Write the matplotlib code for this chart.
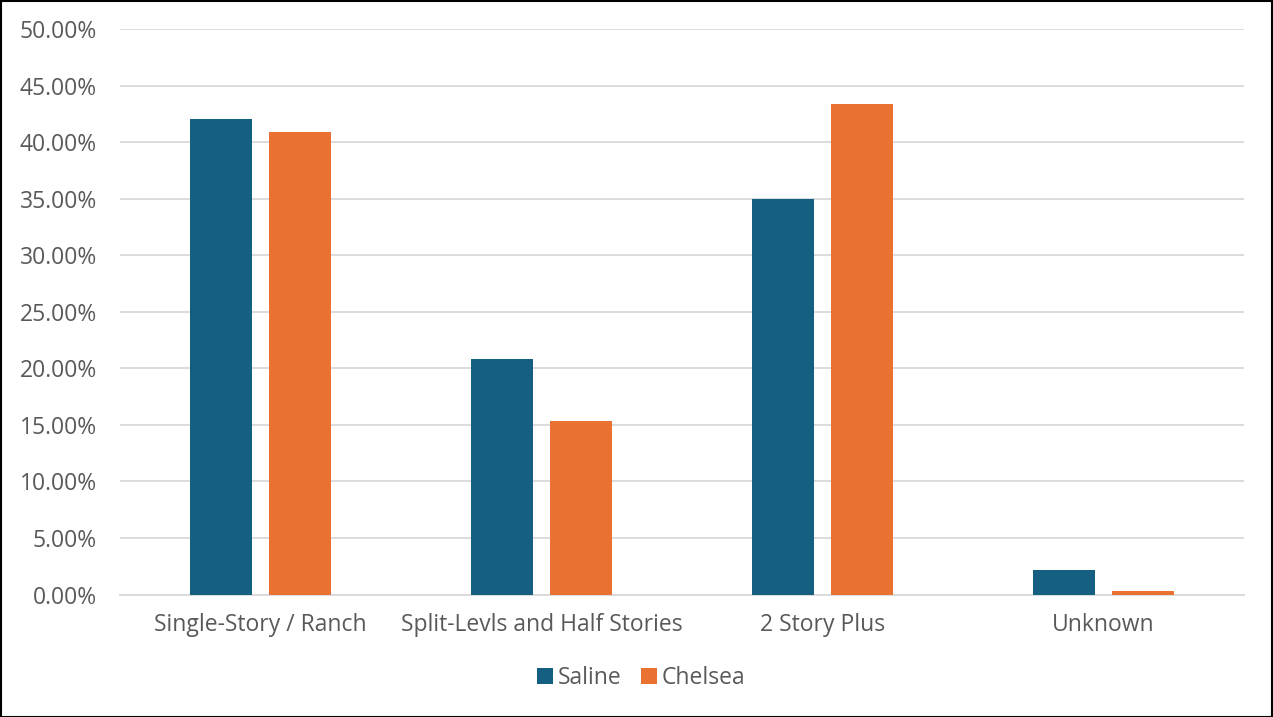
import matplotlib
matplotlib.use("Agg")
import matplotlib.pyplot as plt
import numpy as np
from matplotlib.ticker import FuncFormatter, MultipleLocator
from matplotlib.patches import Rectangle

categories = ["Single-Story / Ranch", "Split-Levls and Half Stories", "2 Story Plus", "Unknown"]
saline = [0.4200, 0.2082, 0.3493, 0.0214]
chelsea = [0.4086, 0.1536, 0.4336, 0.0031]
series_names = ["Saline", "Chelsea"]
colors = ["#156082", "#E97132"]

plt.rcParams['font.family'] = ['Open Sans', 'DejaVu Sans']
text_color = "#595959"
fs = 16.5

fig = plt.figure(figsize=(12.73, 7.17), dpi=100)
ax = fig.add_axes([120/1273, 1-594.5/717, (1244-120)/1273, (594.5-29)/717])

x = np.arange(len(categories))
w = 0.224
gap = 0.057
ax.bar(x - (w + gap)/2, saline, w, color=colors[0], label=series_names[0], zorder=3)
ax.bar(x + (w + gap)/2, chelsea, w, color=colors[1], label=series_names[1], zorder=3)

ax.set_xlim(-0.5, len(categories) - 0.5)
ax.set_ylim(0, 0.5)
ax.yaxis.set_major_locator(MultipleLocator(0.05))
ax.yaxis.set_major_formatter(FuncFormatter(lambda v, p: f"{v*100:.2f}%"))
ax.grid(axis='y', color='#d9d9d9', linewidth=1.3, zorder=0)
ax.set_axisbelow(True)
for s in ['top', 'right', 'left']:
    ax.spines[s].set_visible(False)
ax.spines['bottom'].set_color('#d9d9d9')
ax.spines['bottom'].set_linewidth(1.3)
ax.set_xticks(x)
ax.set_xticklabels(categories)
ax.tick_params(axis='both', length=0, colors=text_color, labelsize=fs)
ax.tick_params(axis='x', pad=13.5)
ax.tick_params(axis='y', pad=16.5)

leg = fig.legend(loc='center', bbox_to_anchor=(641/1273, 1-678/717), ncol=2, frameon=False,
                 fontsize=fs, handlelength=0.7, handleheight=0.7, handletextpad=0.2,
                 columnspacing=0.85)
for t in leg.get_texts():
    t.set_color(text_color)

fig.patches.append(Rectangle((0.5/1273, 0.5/717), 1-1.5/1273, 1-1.5/717, transform=fig.transFigure,
                             fill=False, edgecolor='black', linewidth=1.5))

fig.savefig("out.png", dpi=100, facecolor='white')
